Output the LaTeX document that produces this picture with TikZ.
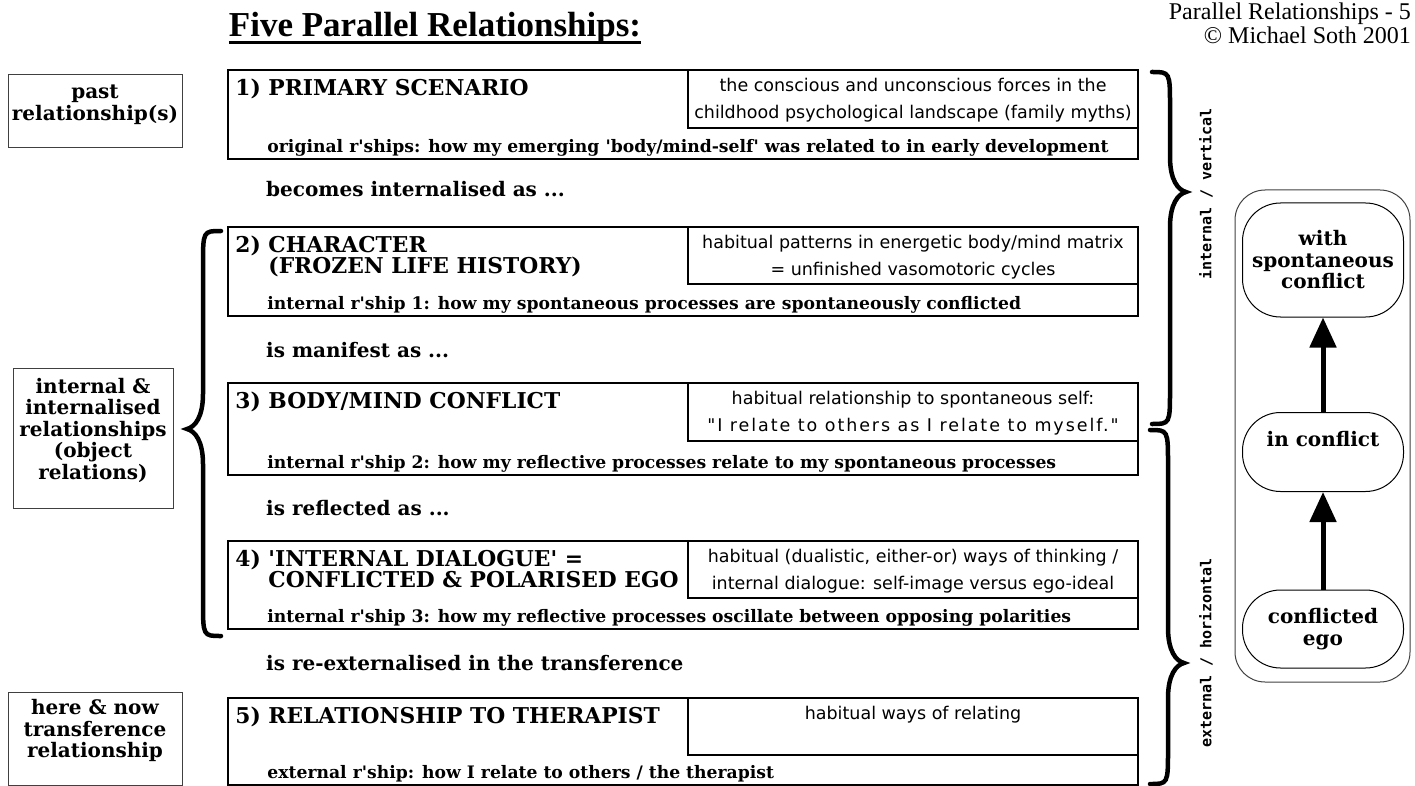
\documentclass[tikz,border=0pt]{standalone}
\usepackage{fontspec}
\setmainfont{DejaVu Serif}[Ligatures=TeXOff]
\newfontfamily\timesfamily{Liberation Serif}
\newfontfamily\verdanafamily{DejaVu Sans}[Ligatures=TeXOff]
\newfontfamily\pixelfamily{DejaVu Sans Mono}
\usepackage{tikz}
\usetikzlibrary{arrows.meta}
\usetikzlibrary{fit}
\usetikzlibrary{positioning}

\newcommand{\prtitle}{\timesfamily\bfseries\fontsize{35}{38}\selectfont}
\newcommand{\prcorner}{\timesfamily\fontsize{24}{24}\selectfont}
\newcommand{\prhead}{\bfseries\fontsize{21.8}{21}\selectfont}
\newcommand{\prbody}{\bfseries\fontsize{17.2}{20}\selectfont}
\newcommand{\prlink}{\bfseries\fontsize{20}{22}\selectfont}
\newcommand{\prnote}{\verdanafamily\fontsize{17.5}{27}\selectfont}
\newcommand{\prside}{\bfseries\fontsize{20}{21.5}\selectfont}
\newcommand{\prpixel}{\pixelfamily\bfseries\fontsize{15}{17}\selectfont}
\newcommand{\relno}[1]{\makebox[33pt][l]{#1}}
\newcommand{\thickul}[1]{\setbox0\hbox{#1}\rlap{\rule[-7pt]{\wd0}{3pt}}\box0}
% curly brace: spine x, top y, tip y, bottom y, direction (1 = tip right, -1 = tip left)
\newcommand{\drawbrace}[5]{%
  \draw[brace] ({#1-(#5)*18},#2) .. controls ({#1},#2) and ({#1},#2) .. ({#1},{#2+35})
    -- ({#1},{#3-35}) .. controls ({#1},{#3-12}) and ({#1+(#5)*8},{#3-2}) .. ({#1+(#5)*16},#3)
    .. controls ({#1+(#5)*8},{#3+2}) and ({#1},{#3+12}) .. ({#1},{#3+35})
    -- ({#1},{#4-35}) .. controls ({#1},#4) and ({#1},#4) .. ({#1-(#5)*18},#4);}

\tikzset{mainbox/.style={draw, line width=1.5pt, inner sep=0pt}}
\tikzset{notebox/.style={draw, line width=1.2pt, inner sep=0pt}}
\tikzset{notetext/.style={inner sep=0pt, align=center, font=\prnote}}
\tikzset{heading/.style={anchor=north west, inner sep=0pt, align=left, font=\prhead}}
\tikzset{bodyline/.style={anchor=base west, inner sep=0pt, font=\prbody}}
\tikzset{linkline/.style={anchor=base west, inner sep=0pt, font=\prlink}}
\tikzset{sidebox/.style={draw=black!75, line width=1pt, inner sep=0pt, align=center, font=\prside}}
\tikzset{sidelabel/.style={rotate=90, inner sep=0pt, font=\prpixel}}
\tikzset{panelbox/.style={draw=black!75, line width=1pt, inner sep=0pt, rounded corners=30pt}}
\tikzset{stagebox/.style={draw, line width=1pt, rounded corners=38pt, align=center, font=\prside, minimum width=161pt}}
\tikzset{uparrow/.style={line width=5pt, -{Triangle[length=30pt, width=26pt]}}}
\tikzset{brace/.style={line width=4.5pt, line cap=round}}

\begin{document}
\begin{tikzpicture}[x=1pt, y=-1pt]
\useasboundingbox (0,0) rectangle (1415,786);

\node[anchor=base] (title) at (435,37) {\prtitle\thickul{Five Parallel Relationships:}};
\node[anchor=north east, inner sep=0pt, align=right, font=\prcorner] (corner) at (1411,3)
  {Parallel Relationships - 5\\\textcopyright{} Michael Soth 2001};

% left column
\node[sidebox, fit={(8,75) (182,148)}] (past) {past\\relationship(s)};
\node[sidebox, fit={(13,368) (173,508)}] (internal) {internal \&\\internalised\\relationships\\(object\\relations)};
\node[sidebox, fit={(8,692) (182,785)}] (herenow) {here \& now\\transference\\relationship};

% the five relationships
\node[mainbox, fit={(228,70) (1138,159)}] (box1) {};
\node[notebox, fit={(688,70) (1138,128)}] (note1) {};
\node[mainbox, fit={(228,227) (1138,316)}] (box2) {};
\node[notebox, fit={(688,227) (1138,284)}] (note2) {};
\node[mainbox, fit={(228,383) (1138,475)}] (box3) {};
\node[notebox, fit={(688,383) (1138,441)}] (note3) {};
\node[mainbox, fit={(228,541) (1138,629)}] (box4) {};
\node[notebox, fit={(688,541) (1138,598)}] (note4) {};
\node[mainbox, fit={(228,698) (1138,785)}] (box5) {};
\node[notebox, fit={(688,698) (1138,755)}] (note5) {};

\node[heading] (head1) at ([xshift=8pt,yshift=-9pt]box1.north west) {\relno{1)}PRIMARY SCENARIO};
\node[heading] (head2) at ([xshift=8pt,yshift=-9pt]box2.north west) {\relno{2)}CHARACTER\\\hspace*{33pt}(FROZEN LIFE HISTORY)};
\node[heading] (head3) at ([xshift=8pt,yshift=-9pt]box3.north west) {\relno{3)}BODY/MIND CONFLICT};
\node[heading] (head4) at ([xshift=8pt,yshift=-9pt]box4.north west) {\relno{4)}'INTERNAL DIALOGUE' =\\\hspace*{33pt}CONFLICTED \& POLARISED EGO};
\node[heading] (head5) at ([xshift=8pt,yshift=-9pt]box5.north west) {\relno{5)}RELATIONSHIP TO THERAPIST};

\node[notetext, below=9pt of note1.north] (text1) {the conscious and unconscious forces in the\\childhood psychological landscape (family myths)};
\node[notetext, below=9pt of note2.north] (text2) {habitual patterns in energetic body/mind matrix\\= unfinished vasomotoric cycles};
\node[notetext, below=9pt of note3.north] (text3) {habitual relationship to spontaneous self:\\{\addfontfeature{LetterSpace=11}"I relate to others as I relate to myself."}};
\node[notetext, below=9pt of note4.north] (text4) {habitual (dualistic, either-or) ways of thinking /\\internal dialogue: self-image versus ego-ideal};
\node[notetext, below=9pt of note5.north] (text5) {habitual ways of relating};

\node[bodyline] (rel1) at ([xshift=40pt,yshift=7pt]box1.south west) {original r'ships: how my emerging 'body/mind-self' was related to in early development};
\node[bodyline] (rel2) at ([xshift=40pt,yshift=7pt]box2.south west) {internal r'ship 1: how my spontaneous processes are spontaneously conflicted};
\node[bodyline] (rel3) at ([xshift=40pt,yshift=7pt]box3.south west) {internal r'ship 2: how my reflective processes relate to my spontaneous processes};
\node[bodyline] (rel4) at ([xshift=40pt,yshift=7pt]box4.south west) {internal r'ship 3: how my reflective processes oscillate between opposing polarities};
\node[bodyline] (rel5) at ([xshift=40pt,yshift=7pt]box5.south west) {external r'ship: how I relate to others / the therapist};

\node[linkline] (link1) at (266,197) {becomes internalised as ...};
\node[linkline] (link2) at (266,357) {is manifest as ...};
\node[linkline] (link3) at (266,515) {is reflected as ...};
\node[linkline] (link4) at (266,670) {is re-externalised in the transference};

% braces
\drawbrace{203}{231}{429}{636}{-1}
\drawbrace{1170}{72}{192}{424}{1}
\drawbrace{1168}{430}{663}{784}{1}
\node[sidelabel] (vertical) at (1206,194) {internal / vertical};
\node[sidelabel] (horizontal) at (1206,653) {external / horizontal};

% right panel
\node[panelbox, fit={(1235,190) (1410,682)}] (panel) {};
\node[stagebox, minimum height=114pt] (spont) at (1323,260) {with\\spontaneous\\conflict};
\node[stagebox, minimum height=79pt, text depth=27pt] (inconf) at (1323,452) {in conflict};
\node[stagebox, minimum height=78pt] (confego) at (1323,629) {conflicted\\ego};
\draw[uparrow] (inconf) -- (spont);
\draw[uparrow] (confego) -- (inconf);
\end{tikzpicture}
\end{document}
